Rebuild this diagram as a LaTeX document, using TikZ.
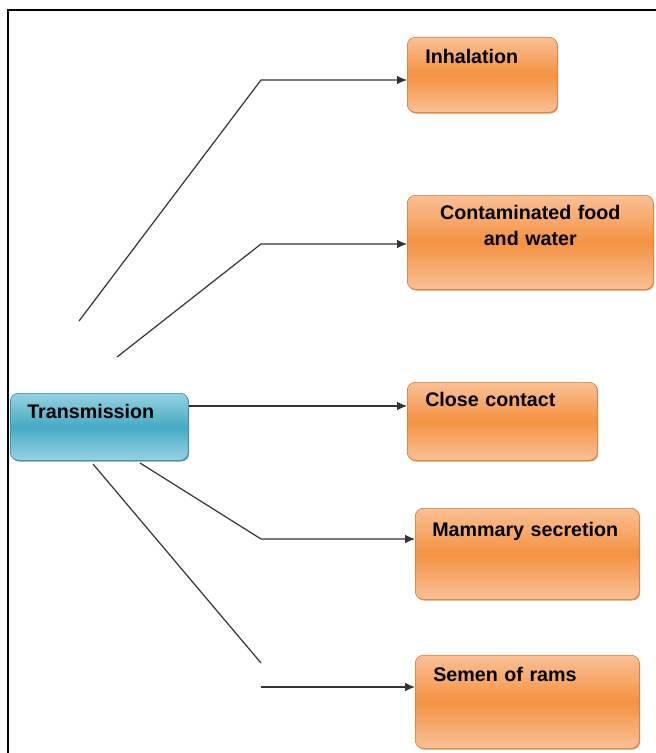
\documentclass[tikz,border=0pt]{standalone}
\usepackage{fontspec}
\setmainfont{Liberation Sans}
\usetikzlibrary{arrows.meta,shadows}

\definecolor{orangeTop}{RGB}{250,192,150}
\definecolor{orangeMid}{RGB}{244,146,66}
\definecolor{orangeLine}{RGB}{214,118,48}
\definecolor{blueTop}{RGB}{150,210,225}
\definecolor{blueMid}{RGB}{70,170,196}
\definecolor{blueLine}{RGB}{55,130,160}

\begin{document}
\begin{tikzpicture}[x=0.25mm,y=-0.25mm,>=Latex,
  box/.style={rounded corners=2mm,inner ysep=0pt,anchor=north west,align=left,font=\fontsize{14}{19}\selectfont\bfseries},
  orangebox/.style={box,draw=orangeLine,top color=orangeTop,bottom color=orangeTop,middle color=orangeMid,drop shadow={shadow xshift=0.6pt,shadow yshift=-0.9pt,fill=orangeLine,opacity=0.8}},
  bluebox/.style={box,draw=blueLine,top color=blueTop,bottom color=blueTop,middle color=blueMid,drop shadow={shadow xshift=0.6pt,shadow yshift=-0.9pt,fill=blueLine,opacity=0.8}},
  link/.style={draw=black!80,line width=0.3mm},
  arr/.style={link,-{Latex[length=2.5mm,width=2.2mm]}}]
\useasboundingbox (0,0) rectangle (656,753);
\draw[line width=0.5mm] (8,753) -- (8,10) -- (656,10);

\node[bluebox,text width=36mm,inner xsep=4.25mm,text height=6.25mm,text depth=10.5mm] (trans) at (10,393) {Transmission};
\node[orangebox,text width=28.5mm,inner xsep=4.5mm,text height=6.5mm,text depth=12.25mm] (inh) at (407,37) {Inhalation};
\node[orangebox,align=center,text width=56.5mm,inner xsep=2.5mm,text height=6mm,text depth=17.5mm] (food) at (407,195) {Contaminated food\\and water};
\node[orangebox,text width=38.5mm,inner xsep=4.5mm,text height=6mm,text depth=13.5mm] (close) at (407,382) {Close contact};
\node[orangebox,text width=47.5mm,inner xsep=4.25mm,text height=7mm,text depth=15.75mm] (mam) at (415,508) {Mammary secretion};
\node[orangebox,text width=47mm,inner xsep=4.5mm,text height=6.5mm,text depth=16.75mm] (semen) at (415,655) {Semen of rams};

\coordinate (a1) at (79,321);
\coordinate (b1) at (261,80);
\coordinate (a2) at (117,357);
\coordinate (b2) at (261,244);
\coordinate (y3) at (0,406);
\coordinate (a4) at (140,463);
\coordinate (b4) at (261,539);
\coordinate (a5) at (93,464);
\coordinate (b5) at (261,663);
\coordinate (c5) at (261,687);

\draw[arr] (a1) -- (b1) -- (inh.west |- b1);
\draw[arr] (a2) -- (b2) -- (food.west |- b2);
\draw[arr] (trans.east |- y3) -- (close.west |- y3);
\draw[arr] (a4) -- (b4) -- (mam.west |- b4);
\draw[link] (a5) -- (b5);
\draw[arr] (c5) -- (semen.west |- c5);
\end{tikzpicture}
\end{document}
